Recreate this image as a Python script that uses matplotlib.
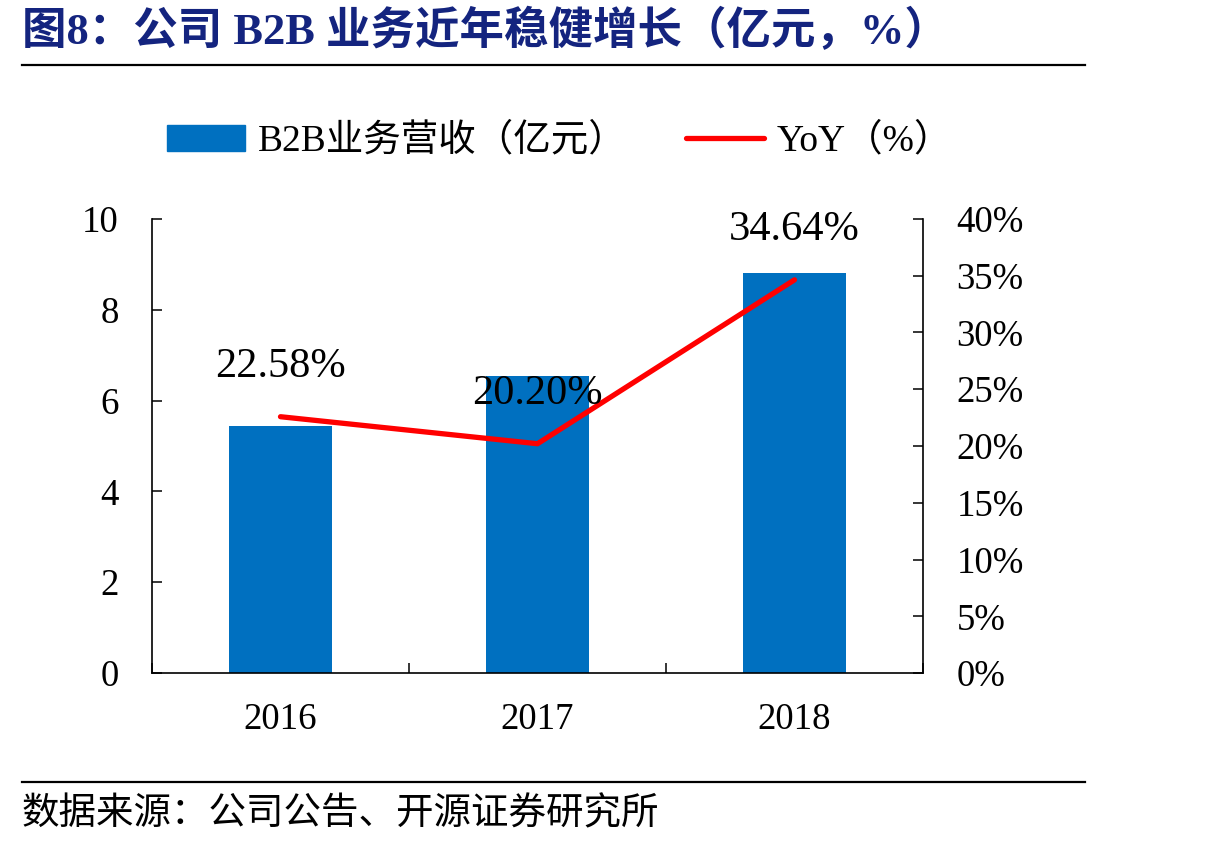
import matplotlib
matplotlib.use("Agg")
import matplotlib.pyplot as plt
from matplotlib.lines import Line2D
from matplotlib.patches import Patch

plt.rcParams['font.family'] = ['Liberation Serif', 'Noto Sans CJK SC']

# data
years = ['2016', '2017', '2018']
revenue = [5.45, 6.55, 8.82]          # 亿元
yoy = [22.58, 20.20, 34.64]           # %
bar_label = 'B2B业务营收（亿元）'
line_label = 'YoY（%）'
title = '图8：公司 B2B 业务近年稳健增长（亿元，%）'
source = '数据来源：公司公告、开源证券研究所'

bar_color = '#0070C0'
line_color = '#FF0000'
navy = '#14247F'
W, H = 1210, 850

fig = plt.figure(figsize=(W / 100, H / 100), dpi=100)
ax = fig.add_axes([152 / W, 1 - 673 / H, (923 - 152) / W, (673 - 219) / H])
x = list(range(len(years)))

ax.bar(x, revenue, width=0.4, color=bar_color, zorder=2)
ax.set_xlim(-0.5, len(years) - 0.5)
ax.set_ylim(0, 10)
ax.set_yticks([0, 2, 4, 6, 8, 10])
ax.set_xticks(x)
ax.set_xticklabels(years)
ax.set_xticks([i - 0.5 for i in range(len(years) + 1)], minor=True)
ax.tick_params(axis='x', which='major', length=0, pad=21, labelsize=26.5)
ax.tick_params(axis='x', which='minor', direction='in', length=7, width=1.1)
ax.tick_params(axis='y', direction='in', length=7, width=1.1, pad=24, labelsize=26.5)
for s in ['top', 'right']:
    ax.spines[s].set_visible(False)
for s in ['left', 'bottom']:
    ax.spines[s].set_linewidth(1.2)

ax2 = ax.twinx()
ax2.plot(x, yoy, color=line_color, lw=3.8, solid_capstyle='round', zorder=3)
ax2.set_ylim(0, 40)
ax2.set_yticks(range(0, 41, 5))
ax2.set_yticklabels([f'{v}%' for v in range(0, 41, 5)])
ax2.tick_params(axis='y', direction='in', length=7, width=1.1, pad=24, labelsize=26.5)
for s in ['top', 'left', 'bottom']:
    ax2.spines[s].set_visible(False)
ax2.spines['right'].set_linewidth(1.2)

for xi, v in zip(x, yoy):
    ax2.annotate(f'{v:.2f}%', (xi, v), xytext=(0, 36), textcoords='offset points',
                 ha='center', va='center', fontsize=30.5)

handles = [Patch(color=bar_color), Line2D([], [], color=line_color, lw=3.8, solid_capstyle='round')]
fig.legend(handles, [bar_label, line_label], loc='center left',
           bbox_to_anchor=(167 / W, 1 - 141 / H), ncol=2, frameon=False,
           fontsize=27, handlelength=2.08, handletextpad=0.35, columnspacing=1.57,
           borderpad=0, borderaxespad=0)

fig.text(22 / W, 1 - 31 / H, title, fontsize=32, fontweight='bold', color=navy, va='center')
fig.add_artist(Line2D([22 / W, 1085 / W], [1 - 65 / H] * 2, color='black', lw=1.6))
fig.add_artist(Line2D([22 / W, 1085 / W], [1 - 782 / H] * 2, color='black', lw=1.6))
fig.text(22 / W, 1 - 815 / H, source, fontsize=27, va='center')

fig.savefig('out.png', dpi=100)
